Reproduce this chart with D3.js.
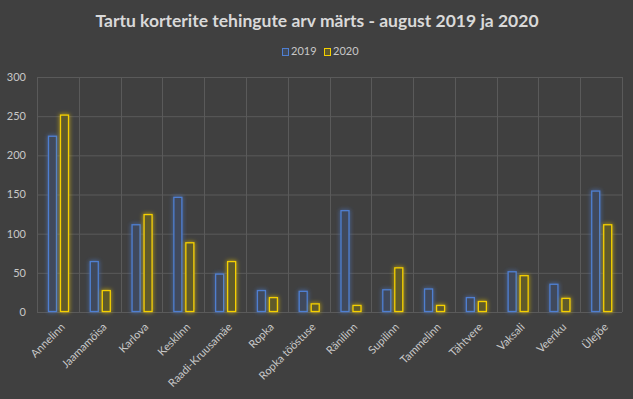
<!DOCTYPE html>
<html>
<head>
<meta charset="utf-8">
<script src="https://cdn.jsdelivr.net/npm/d3@7"></script>
<style>
  body { margin: 0; background: #404040; }
  text { font-family: Lato, "Open Sans", sans-serif; }
</style>
</head>
<body>
<div id="chart"></div>
<script>
// linnaosad ja tehingute arv
var districts = ["Annelinn", "Jaamamõisa", "Karlova", "Kesklinn", "Raadi-Kruusamäe", "Ropka",
	"Ropka tööstuse", "Ränilinn", "Supilinn", "Tammelinn", "Tähtvere", "Vaksali", "Veeriku", "Ülejõe"];
var deals2019 = [225, 65, 112, 147, 49, 28, 27, 130, 29, 30, 19, 52, 36, 155];
var deals2020 = [252, 28, 125, 89, 65, 19, 11, 9, 57, 9, 14, 47, 18, 112];
var years = ["2019", "2020"];
var yTicks = [0, 50, 100, 150, 200, 250, 300];

var width = 633;
var height = 399;
var margin = {left: 37, top: 77, right: 11, bottom: 87};

var colors = {
	"2019": {stroke: "#4f7fd1", fill: "#404a5c"},
	"2020": {stroke: "#f5d000", fill: "#5f5a2c"}
};

var svg = d3.select("#chart")
	.append("svg")
	.attr("width", width)
	.attr("height", height);

// glow like in the excel chart
var defs = svg.append("defs");
years.forEach(function(y) {
	var f = defs.append("filter")
		.attr("id", "glow" + y)
		.attr("x", "-100%").attr("y", "-20%")
		.attr("width", "300%").attr("height", "140%");
	f.append("feGaussianBlur")
		.attr("in", "SourceGraphic")
		.attr("stdDeviation", 2)
		.attr("result", "blur");
	var m = f.append("feMerge");
	m.append("feMergeNode").attr("in", "blur");
	m.append("feMergeNode").attr("in", "SourceGraphic");
});

var x = d3.scaleBand()
	.domain(districts)
	.range([margin.left, width - margin.right]);

var x1 = d3.scaleBand()
	.domain(years)
	.range([0, 21])
	.paddingInner(0.25);

var y = d3.scaleLinear()
	.domain([0, 300])
	.range([height - margin.bottom, margin.top]);

// horizontal grid
svg.append("g")
	.selectAll("line")
	.data(yTicks)
	.enter()
	.append("line")
	.attr("x1", margin.left)
	.attr("x2", width - margin.right)
	.attr("y1", function(d) { return y(d) + 0.5; })
	.attr("y2", function(d) { return y(d) + 0.5; })
	.style("stroke", "#5a5a5a")
	.style("stroke-width", 1);

// vertical grid
var edges = districts.map(function(d) { return x(d); }).concat([width - margin.right]);
svg.append("g")
	.selectAll("line")
	.data(edges)
	.enter()
	.append("line")
	.attr("x1", function(d) { return Math.round(d) + 0.5; })
	.attr("x2", function(d) { return Math.round(d) + 0.5; })
	.attr("y1", margin.top)
	.attr("y2", height - margin.bottom)
	.style("stroke", "#5a5a5a")
	.style("stroke-width", 1);

// y axis labels
svg.append("g")
	.selectAll("text")
	.data(yTicks)
	.enter()
	.append("text")
	.attr("x", 26)
	.attr("y", function(d) { return y(d); })
	.attr("dy", "0.35em")
	.style("text-anchor", "end")
	.style("font-size", "11px")
	.style("fill", "#c8c8c8")
	.text(function(d) { return d; });

// bars
var series = [deals2019, deals2020];
years.forEach(function(yr, k) {
	svg.append("g")
		.attr("filter", "url(#glow" + yr + ")")
		.selectAll("rect")
		.data(series[k])
		.enter()
		.append("rect")
		.attr("x", function(d, i) { return x(districts[i]) + 11 + x1(yr) + 0.5; })
		.attr("y", function(d) { return y(d) + 0.5; })
		.attr("width", x1.bandwidth() - 1)
		.attr("height", function(d) { return y(0) - y(d) - 1; })
		.style("fill", colors[yr].fill)
		.style("stroke", colors[yr].stroke)
		.style("stroke-width", 1.3);
});

// x axis labels
svg.append("g")
	.selectAll("text")
	.data(districts)
	.enter()
	.append("text")
	.attr("transform", function(d) {
		return "translate(" + (x(d) + x.bandwidth() / 2 + 5) + "," + (height - margin.bottom + 13) + ") rotate(-45)";
	})
	.style("text-anchor", "end")
	.attr("dy", "0.35em")
	.style("font-size", "11px")
	.style("fill", "#c8c8c8")
	.text(function(d) { return d; });

// title
svg.append("text")
	.attr("x", 317)
	.attr("y", 27)
	.style("text-anchor", "middle")
	.style("font-size", "17.5px")
	.style("font-weight", "bold")
	.style("fill", "#d9d9d9")
	.text("Tartu korterite tehingute arv märts - august 2019 ja 2020");

// legend
var legend = svg.append("g");
var legendX = [282, 324];
years.forEach(function(yr, k) {
	legend.append("rect")
		.attr("x", legendX[k] + 0.5)
		.attr("y", 48.5)
		.attr("width", 6)
		.attr("height", 7)
		.style("fill", colors[yr].fill)
		.style("stroke", colors[yr].stroke);
	legend.append("text")
		.attr("x", legendX[k] + 9)
		.attr("y", 51.5)
		.attr("dy", "0.35em")
		.style("font-size", "11px")
		.style("fill", "#c8c8c8")
		.text(yr);
});
</script>
</body>
</html>
